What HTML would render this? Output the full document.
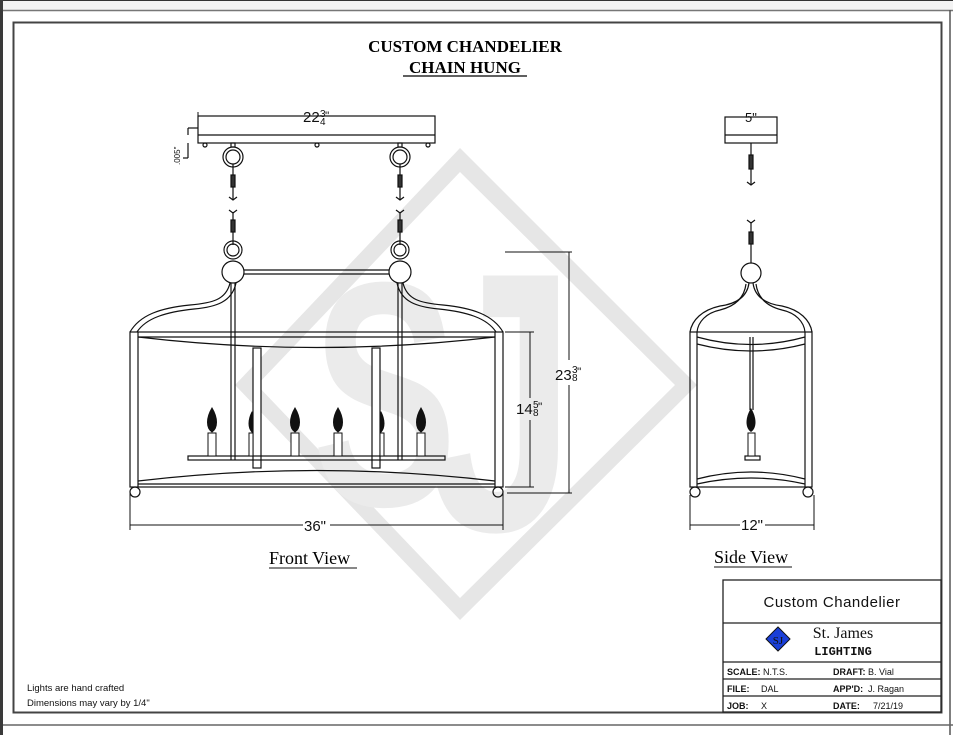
<!DOCTYPE html>
<html><head><meta charset="utf-8"><style>
html,body{margin:0;padding:0;background:#fff;}
svg{display:block;}
</style></head><body>
<svg width="953" height="735" viewBox="0 0 953 735" xmlns="http://www.w3.org/2000/svg" font-family="Liberation Sans, sans-serif">
<rect x="0" y="0" width="953" height="735" fill="#fff"/>
<rect x="0" y="0" width="953" height="10" fill="#f3f3f3"/>
<line x1="0" y1="0.5" x2="953" y2="0.5" stroke="#333" stroke-width="1"/>
<line x1="0" y1="10.5" x2="953" y2="10.5" stroke="#777" stroke-width="1.5"/>
<rect x="0" y="0" width="3" height="735" fill="#3a3a3a"/>
<line x1="950" y1="10" x2="950" y2="735" stroke="#555" stroke-width="1.5"/>
<line x1="3" y1="725" x2="953" y2="725" stroke="#666" stroke-width="1.5"/>
<rect x="13.5" y="22.5" width="928" height="690" fill="none" stroke="#444" stroke-width="2"/>

<!-- watermark -->
<path fill-rule="evenodd" fill="#e6e6e6" d="M460 148 L697 385 L460 620 L235 385 Z M460 172 L675 385 L460 598 L257 385 Z"/>
<text transform="translate(312 505) scale(0.68 1)" font-size="320" font-weight="bold" fill="#ebebeb" font-family="Liberation Sans, sans-serif">S</text>
<text transform="translate(428 530) scale(0.72 1)" font-size="370" font-weight="bold" fill="#ebebeb" font-family="Liberation Sans, sans-serif">J</text>

<!-- title -->
<text x="465" y="52" font-size="17" font-weight="bold" font-family="Liberation Serif, serif" text-anchor="middle">CUSTOM CHANDELIER</text>
<text x="465" y="73" font-size="17" font-weight="bold" font-family="Liberation Serif, serif" text-anchor="middle">CHAIN HUNG</text>
<line x1="403" y1="76" x2="527" y2="76" stroke="#000" stroke-width="1.2"/>

<g fill="none" stroke="#111" stroke-width="1.2">
<rect x="198" y="116" width="237" height="27"/>
<line x1="198" y1="135" x2="435" y2="135"/>
<circle cx="205" cy="145" r="2"/><circle cx="317" cy="145" r="2"/><circle cx="428" cy="145" r="2"/>
<line x1="188" y1="128" x2="198" y2="128"/><line x1="188" y1="128" x2="188" y2="135"/>
<line x1="188" y1="143" x2="188" y2="158"/><line x1="183" y1="158" x2="188" y2="158"/>
<g>
<rect x="231" y="143" width="4" height="4"/>
<circle cx="233" cy="157" r="10"/><circle cx="233" cy="157" r="7"/>
<line x1="233" y1="164" x2="233" y2="200"/>
<rect x="231" y="175" width="4" height="12" fill="#333"/>
<path d="M229 197 L233 200 L237 197"/>
<path d="M229 210 L233 213 L237 210"/>
<line x1="233" y1="212" x2="233" y2="245"/>
<rect x="231" y="220" width="4" height="12" fill="#333"/>
<circle cx="233" cy="250" r="9"/><circle cx="233" cy="250" r="6"/>
<circle cx="233" cy="272" r="11"/>
</g>
<g>
<rect x="398" y="143" width="4" height="4"/>
<circle cx="400" cy="157" r="10"/><circle cx="400" cy="157" r="7"/>
<line x1="400" y1="164" x2="400" y2="200"/>
<rect x="398" y="175" width="4" height="12" fill="#333"/>
<path d="M396 197 L400 200 L404 197"/>
<path d="M396 210 L400 213 L404 210"/>
<line x1="400" y1="212" x2="400" y2="245"/>
<rect x="398" y="220" width="4" height="12" fill="#333"/>
<circle cx="400" cy="250" r="9"/><circle cx="400" cy="250" r="6"/>
<circle cx="400" cy="272" r="11"/>
</g>
<line x1="244" y1="270" x2="389" y2="270"/><line x1="244" y1="274" x2="389" y2="274"/>
<line x1="231" y1="283" x2="231" y2="460"/><line x1="235" y1="283" x2="235" y2="460"/>
<line x1="398" y1="283" x2="398" y2="460"/><line x1="402" y1="283" x2="402" y2="460"/>
<path d="M230 283 C226 300 212 303 190 305 C160 308 140 315 130 332"/>
<path d="M236 283 C232 302 216 307 194 309 C166 312 146 318 137 332"/>
<path d="M403 283 C407 300 421 303 443 305 C473 308 493 315 503 332"/>
<path d="M397 283 C401 302 417 307 439 309 C467 312 487 318 496 332"/>
<rect x="130" y="332" width="373" height="155"/>
<line x1="138" y1="332" x2="138" y2="487"/><line x1="495" y1="332" x2="495" y2="487"/>
<path d="M138 337 Q317 358 495 337"/>
<line x1="138" y1="337" x2="495" y2="337"/>
<path d="M138 481 Q317 460 495 481"/>
<line x1="138" y1="484" x2="495" y2="484"/>
<rect x="253" y="348" width="8" height="120" fill="#fff"/>
<rect x="372" y="348" width="8" height="120" fill="#fff"/>
<rect x="188" y="456" width="257" height="4"/>
<circle cx="135" cy="492" r="5"/><circle cx="498" cy="492" r="5"/>
</g>
<g fill="#111" stroke="#111" stroke-width="1">
<path d="M212 408 C206 418 206 428 212 432 C218 428 218 418 212 408Z"/>
<path d="M295 408 C289 418 289 428 295 432 C301 428 301 418 295 408Z"/>
<path d="M338 408 C332 418 332 428 338 432 C344 428 344 418 338 408Z"/>
<path d="M421 408 C415 418 415 428 421 432 C427 428 427 418 421 408Z"/>
<path d="M252 412 C248 420 248 428 252 432 L253 432 L253 412Z"/>
<path d="M381 412 C385 420 385 428 381 432 L380 432 L380 412Z"/>
</g>
<g fill="#fff" stroke="#111" stroke-width="1">
<rect x="208" y="433" width="8" height="23"/><rect x="291" y="433" width="8" height="23"/>
<rect x="334" y="433" width="8" height="23"/><rect x="417" y="433" width="8" height="23"/>
<rect x="249" y="433" width="4" height="23"/><rect x="380" y="433" width="4" height="23"/>
</g>
<g stroke="#111" stroke-width="1" fill="none">
<line x1="198" y1="116" x2="198" y2="112"/>
<line x1="198" y1="116" x2="300" y2="116"/><line x1="332" y1="116" x2="435" y2="116"/>
<line x1="130" y1="492" x2="130" y2="530"/><line x1="503" y1="492" x2="503" y2="530"/>
<line x1="130" y1="525" x2="303" y2="525"/><line x1="330" y1="525" x2="503" y2="525"/>
<line x1="505" y1="332" x2="534" y2="332"/><line x1="505" y1="487" x2="534" y2="487"/>
<line x1="530" y1="332" x2="530" y2="398"/><line x1="530" y1="420" x2="530" y2="487"/>
<line x1="505" y1="252" x2="572" y2="252"/><line x1="507" y1="493" x2="572" y2="493"/>
<line x1="569" y1="252" x2="569" y2="360"/><line x1="569" y1="385" x2="569" y2="493"/>
</g>
<g font-size="15" fill="#111">
<text x="303" y="122">22</text><text x="320" y="117" font-size="10">3</text><text x="320" y="125" font-size="10">4</text><text x="325" y="120" font-size="12">"</text>
<text x="304" y="531">36"</text>
<text x="516" y="414">14</text><text x="533" y="408" font-size="10">5</text><text x="533" y="416" font-size="10">8</text><text x="538" y="411" font-size="12">"</text>
<text x="555" y="380">23</text><text x="572" y="373" font-size="10">3</text><text x="572" y="381" font-size="10">8</text><text x="577" y="376" font-size="12">"</text>
</g>
<text x="180" y="165" font-size="8" transform="rotate(-90 180 165)" fill="#111">.005"</text>
<text x="269" y="564" font-size="18" font-family="Liberation Serif, serif">Front View</text>
<line x1="269" y1="568" x2="357" y2="568" stroke="#111"/>

<g fill="none" stroke="#111" stroke-width="1.2">
<rect x="725" y="117" width="52" height="26"/>
<line x1="725" y1="135" x2="777" y2="135"/>
<line x1="751" y1="143" x2="751" y2="185"/>
<rect x="749" y="155" width="4" height="14" fill="#333"/>
<path d="M747 182 L751 185 L755 182"/>
<path d="M747 220 L751 223 L755 220"/>
<line x1="751" y1="222" x2="751" y2="263"/>
<rect x="749" y="232" width="4" height="12" fill="#333"/>
<circle cx="751" cy="273" r="10"/>
<path d="M749 283 C747 298 735 304 720 306 C702 310 692 320 690 332"/>
<path d="M753 283 C755 298 767 304 782 306 C800 310 810 320 812 332"/>
<path d="M746 284 C744 300 732 307 720 310 C706 313 698 322 697 332"/>
<path d="M756 284 C758 300 770 307 782 310 C796 313 804 322 805 332"/>
<rect x="690" y="332" width="122" height="155"/>
<line x1="697" y1="332" x2="697" y2="487"/><line x1="805" y1="332" x2="805" y2="487"/>
<path d="M697 337 Q751 352 805 337"/>
<path d="M697 344 Q751 358 805 344"/>
<path d="M697 479 Q751 465 805 479"/>
<path d="M697 484 Q751 472 805 484"/>
<line x1="750" y1="337" x2="750" y2="410"/><line x1="753" y1="337" x2="753" y2="410"/>
<rect x="745" y="456" width="15" height="4"/>
<circle cx="695" cy="492" r="5"/><circle cx="808" cy="492" r="5"/>
</g>
<path d="M751 408 C745 418 745 428 751 432 C757 428 757 418 751 408Z" fill="#111"/>
<rect x="748" y="433" width="7" height="23" fill="#fff" stroke="#111"/>
<g stroke="#111" stroke-width="1">
<line x1="725" y1="117" x2="745" y2="117"/><line x1="759" y1="117" x2="777" y2="117"/>
<line x1="690" y1="495" x2="690" y2="530"/><line x1="814" y1="495" x2="814" y2="530"/>
<line x1="690" y1="525" x2="740" y2="525"/><line x1="765" y1="525" x2="814" y2="525"/>
</g>
<text x="745" y="122" font-size="13" fill="#111">5"</text>
<text x="741" y="530" font-size="15" fill="#111">12"</text>
<text x="714" y="563" font-size="18" font-family="Liberation Serif, serif">Side View</text>
<line x1="714" y1="567" x2="792" y2="567" stroke="#111"/>

<g fill="none" stroke="#222" stroke-width="1.3">
<rect x="723" y="580" width="218" height="132"/>
<line x1="723" y1="623" x2="941" y2="623"/>
<line x1="723" y1="662" x2="941" y2="662"/>
<line x1="723" y1="679" x2="941" y2="679"/>
<line x1="723" y1="696" x2="941" y2="696"/>
</g>
<text x="832" y="607" font-size="15" text-anchor="middle" fill="#111" letter-spacing="0.5">Custom  Chandelier</text>
<path d="M778 627 L790 639 L778 651 L766 639 Z" fill="#1a3fd8" stroke="#111"/>
<text x="778" y="644" font-size="11" text-anchor="middle" fill="#111" font-family="Liberation Serif, serif">SJ</text>
<text x="843" y="638" font-size="16" text-anchor="middle" font-family="Liberation Serif, serif" fill="#111">St. James</text>
<text x="843" y="655" font-size="12" text-anchor="middle" font-weight="bold" font-family="Liberation Mono, monospace" fill="#111">LIGHTING</text>
<g font-size="9" fill="#111">
<text x="727" y="675" font-weight="bold">SCALE:</text><text x="763" y="675">N.T.S.</text>
<text x="833" y="675" font-weight="bold">DRAFT:</text><text x="868" y="675">B. Vial</text>
<text x="727" y="692" font-weight="bold">FILE:</text><text x="761" y="692">DAL</text>
<text x="833" y="692" font-weight="bold">APP'D:</text><text x="868" y="692">J. Ragan</text>
<text x="727" y="709" font-weight="bold">JOB:</text><text x="761" y="709">X</text>
<text x="833" y="709" font-weight="bold">DATE:</text><text x="873" y="709">7/21/19</text>
</g>
<g font-size="9.5" fill="#111">
<text x="27" y="691">Lights are hand crafted</text>
<text x="27" y="706">Dimensions may vary by 1/4"</text>
</g>
</svg>
</body></html>
